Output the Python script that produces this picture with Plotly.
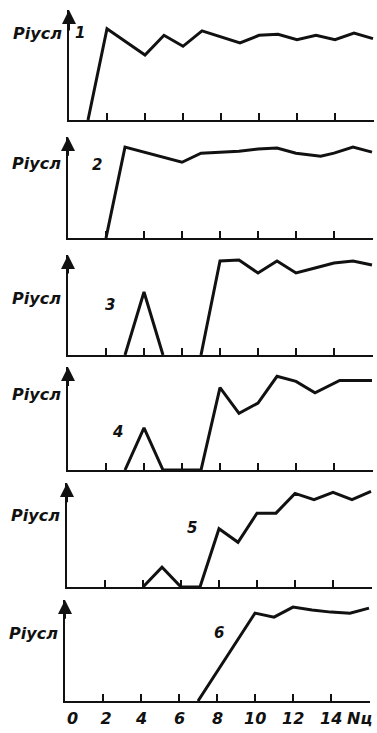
import plotly.graph_objects as go

# Cycle number on the horizontal axis, conditional probability on the vertical one
x1 = [1, 2, 4, 5, 6, 7, 9, 10, 11, 12, 13, 14, 15, 16]
y1 = [0, 0.83, 0.59, 0.77, 0.67, 0.81, 0.70, 0.77, 0.78, 0.73, 0.77, 0.73, 0.79, 0.74]

x2 = [2, 3, 6, 7, 9, 10, 11, 12, 13.3, 14, 15, 16]
y2 = [0, 0.90, 0.75, 0.84, 0.86, 0.88, 0.89, 0.84, 0.81, 0.84, 0.90, 0.85]

x3 = [3, 4, 5, None, 7, 8, 9, 10, 11, 12, 13, 14, 15, 16]
y3 = [0, 0.63, 0, None, 0, 0.94, 0.95, 0.82, 0.94, 0.82, 0.87, 0.92, 0.94, 0.90]

x4 = [3, 4, 5, 7, 8, 9, 10, 11, 12, 13, 14.3, 16]
y4 = [0, 0.41, 0, 0, 0.80, 0.55, 0.65, 0.91, 0.86, 0.75, 0.87, 0.87]

x5 = [4, 5, 6, 7, 8, 9, 10, 11, 12, 13, 14, 15, 16]
y5 = [0, 0.19, 0, 0, 0.56, 0.43, 0.71, 0.71, 0.90, 0.84, 0.91, 0.84, 0.92]

x6 = [7, 10, 11, 12, 13, 14, 15, 16]
y6 = [0, 0.87, 0.83, 0.93, 0.90, 0.88, 0.87, 0.92]

series = [(x1, y1), (x2, y2), (x3, y3), (x4, y4), (x5, y5), (x6, y6)]
curve_names = ["1", "2", "3", "4", "5", "6"]
name_pos = [(0.6, 0.79), (1.5, 0.72), (2.2, 0.50), (2.6, 0.37), (6.6, 0.57), (8.1, 0.67)]
label_frac = [0.21, 0.26, 0.43, 0.27, 0.31, 0.33]

# bottom scale labels: value position and text
tick_vals = [0, 2, 4, 6, 8, 10, 12, 14, 16]
tick_text = ["0\u00a0\u00a0\u00a0\u00a02", "4", "6", "8", "10", "12", "14", "Nц"]
tick_text_pos = [0.0, 4, 6, 8, 10, 12, 14, 15.5]
tick_text_anchor = ["left", "center", "center", "center", "center", "center", "center", "center"]
y_title = "Piусл"

W, H = 377, 733
PX_PER_UNIT = 19.0
X_MAX = 16.05
# panel placement in pixels: left edge of the vertical axis, top of arrow, baseline
left_px = [69, 68, 68, 68, 67, 65]
top_px = [10, 137, 255, 367, 483, 600]
base_px = [120, 238, 355, 470, 587, 701]

INK = "#111111"
FONT = "DejaVu Sans"

fig = go.Figure()
layout = dict(
    width=W, height=H,
    margin=dict(l=0, r=0, t=0, b=0, autoexpand=False),
    paper_bgcolor="white", plot_bgcolor="white",
    showlegend=False,
)
annotations = []

for i, (xs, ys) in enumerate(series):
    n = i + 1
    sfx = "" if n == 1 else str(n)
    xa, ya = "x" + sfx, "y" + sfx

    fig.add_trace(go.Scatter(
        x=xs, y=ys, mode="lines", xaxis=xa, yaxis=ya,
        line=dict(color=INK, width=3), cliponaxis=False,
        connectgaps=False, hoverinfo="skip",
    ))

    x0 = left_px[i] / W
    x1d = (left_px[i] + X_MAX * PX_PER_UNIT) / W
    layout["xaxis" + sfx] = dict(
        domain=[x0, min(x1d, 1.0)], range=[0, X_MAX], anchor=ya,
        showline=True, linewidth=2, linecolor=INK,
        ticks="inside", tickvals=tick_vals[1:], ticklen=7, tickwidth=1.5,
        tickcolor=INK, showgrid=False, zeroline=False, fixedrange=True,
        showticklabels=False, automargin=False,
    )
    layout["yaxis" + sfx] = dict(
        domain=[1 - base_px[i] / H, 1 - top_px[i] / H], range=[0, 1],
        anchor=xa, showline=True, linewidth=2, linecolor=INK,
        ticks="", showticklabels=False, showgrid=False, zeroline=False,
        fixedrange=True, automargin=False,
    )

    # arrowhead on top of the vertical axis
    annotations.append(dict(
        x=0, y=1, ax=0, ay=0.8, xref=xa, yref=ya, axref=xa, ayref=ya,
        showarrow=True, arrowhead=2, arrowsize=1.4, arrowwidth=2,
        arrowcolor=INK, text="",
    ))

    # vertical axis title, left of the axis
    ly = top_px[i] + label_frac[i] * (base_px[i] - top_px[i])
    annotations.append(dict(
        x=(left_px[i] - 5) / W, y=1 - ly / H, xref="paper", yref="paper",
        xanchor="right", yanchor="middle", showarrow=False,
        text="<b><i>" + y_title + "</i></b>",
        font=dict(family=FONT, size=16, color=INK),
    ))

    # curve number
    nx, ny = name_pos[i]
    annotations.append(dict(
        x=nx, y=ny, xref=xa, yref=ya, showarrow=False,
        text="<b><i>" + curve_names[i] + "</i></b>",
        font=dict(family=FONT, size=15, color=INK),
    ))

# scale labels under the bottom panel, in page coordinates
for pos, t, anc in zip(tick_text_pos, tick_text, tick_text_anchor):
    px = left_px[5] + pos * PX_PER_UNIT
    annotations.append(dict(
        x=px / W, y=1 - 718 / H, xref="paper", yref="paper",
        xanchor=anc, yanchor="middle", showarrow=False,
        text="<b><i>" + t + "</i></b>",
        font=dict(family=FONT, size=16, color=INK),
    ))

layout["annotations"] = annotations
fig.update_layout(**layout)
fig.write_html("out.html", config={"displayModeBar": False})
